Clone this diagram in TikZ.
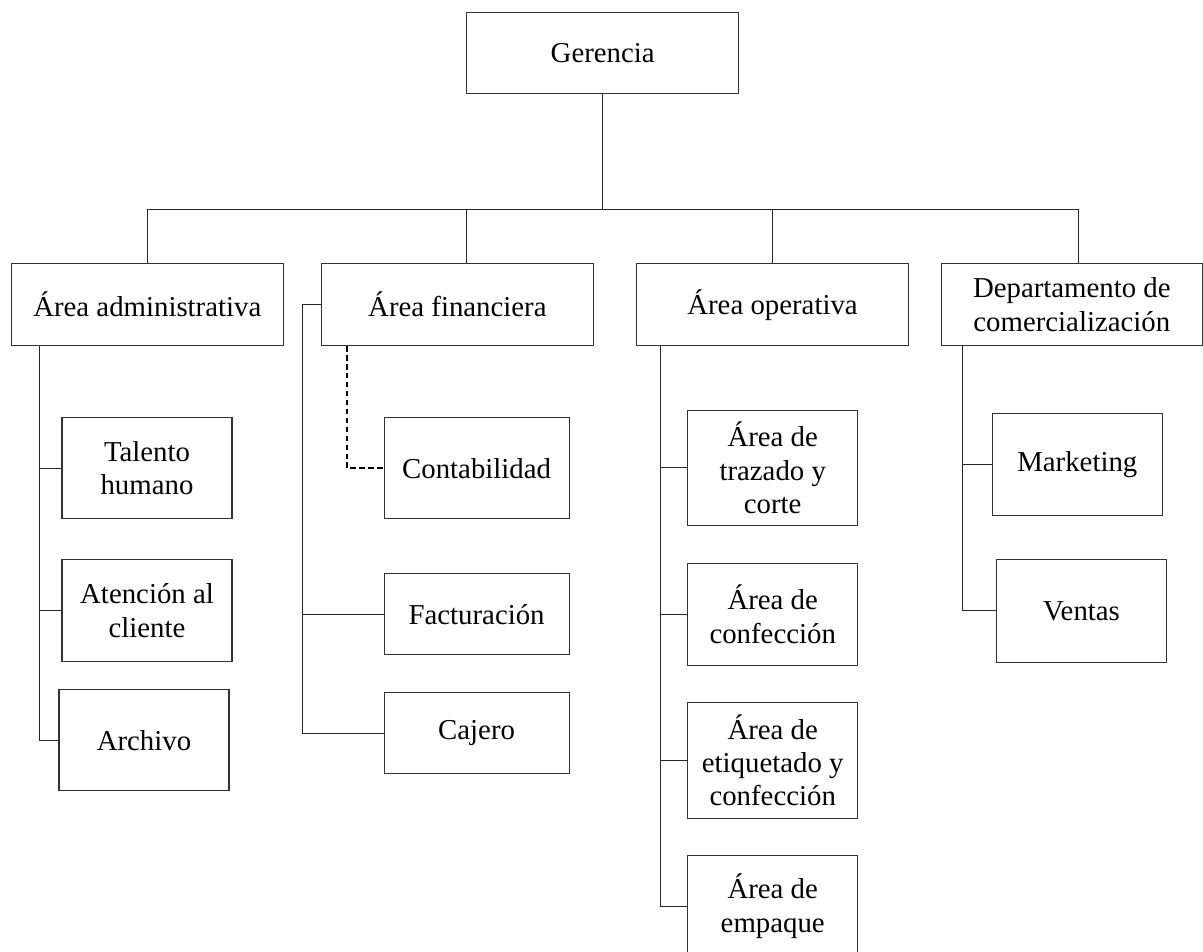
\documentclass[tikz,border=0pt]{standalone}
\usepackage{fontspec}
\setmainfont{Liberation Serif}
\usetikzlibrary{calc}
\tikzset{
    caja/.style={draw=black!80, line width=0.6pt, align=center, inner sep=0pt,
        font=\fontsize{16.4}{19}\selectfont},   % Box of the chart
    ancha/.style={caja, minimum width=5.44cm, minimum height=1.63cm},
    sub/.style={caja, minimum width=3.4cm, minimum height=2.04cm},
    linea/.style={draw=black!85, line width=0.6pt},
    punteada/.style={draw=black, line width=1.4pt, dash pattern=on 3.2pt off 1.9pt}
}

\begin{document}
\begin{tikzpicture}[x=0.02cm, y=-0.02cm]
			\useasboundingbox (0,0) rectangle (1203,951);

			\node[ancha] (ger) at (602.7,53) {Gerencia};

			\node[ancha] (adm) at (147.3,304.7) {Área administrativa};
			\node[ancha, minimum width=5.45cm] (fin) at (457.4,304.7) {Área financiera};
			\node[ancha] (ope) at (772.5,304.7) {Área operativa};
			\node[ancha, minimum width=5.21cm] (com) at (1071.8,304.7) {Departamento de\\comercialización};

			% bus
			\coordinate (b1) at (147.3,209.3);
			\coordinate (b2) at (466.5,209.3);
			\coordinate (b3) at (772.5,209.3);
			\coordinate (b4) at (1078.5,209.3);

			\node[sub, minimum height=2.03cm] (tal) at (147,468.2) {Talento\\humano};
			\node[sub] (ate) at (147,610.7) {Atención al\\cliente};
			\node[sub, minimum height=2.03cm] (arc) at (144,740.2) {Archivo};

			\node[sub, minimum width=3.7cm, minimum height=2.03cm] (con) at (476.6,468.2) {Contabilidad};
			\node[sub, minimum width=3.7cm, minimum height=1.62cm] (fac) at (476.6,614.2) {Facturación};
			\node[sub, minimum width=3.7cm, minimum height=1.63cm] (caj) at (476.6,733.2) {Cajero};

			\node[sub, minimum height=2.31cm] (tra) at (772.7,467.9) {Área de\\trazado y\\corte};
			\node[sub] (cnf) at (772.7,614.3) {Área de\\confección};
			\node[sub, minimum height=2.32cm] (eti) at (772.7,760.3) {Área de\\etiquetado y\\confección};
			\node[sub] (emp) at (772.7,906.3) {Área de\\empaque};

			\node[sub] (mkt) at (1077.3,464.3) {Marketing};
			\node[sub, minimum height=2.05cm] (ven) at (1081.5,610.8) {Ventas};

			% vertical rails
			\coordinate (va) at (39.3,0);
			\coordinate (vf) at (302.3,0);
			\coordinate (vd) at (347.1,0);
			\coordinate (vo) at (660.4,0);
			\coordinate (vc) at (962.7,0);

			\draw[linea] (ger.south) -- (ger.south |- b1);
			\draw[linea] (adm.north) -- (b1) -- (b4) -- (b4 |- com.north);
			\draw[linea] (b2) -- (b2 |- fin.north);
			\draw[linea] (b3) -- (ope.north);

			\draw[linea] (adm.south -| va) -- (va |- arc.west) -- (arc.west);
			\foreach \n in {tal,ate}
				\draw[linea] (va |- \n.west) -- (\n.west);

			\draw[linea] (fin.west) -- (fin.west -| vf) -- (vf |- caj.west) -- (caj.west);
			\draw[linea] (vf |- fac.west) -- (fac.west);
			\draw[punteada] (fin.south -| vd) -- (vd |- con.west) -- (con.west);

			\draw[linea] (ope.south -| vo) -- (vo |- emp.west) -- (emp.west);
			\foreach \n in {tra,cnf,eti}
				\draw[linea] (vo |- \n.west) -- (\n.west);

			\draw[linea] (com.south -| vc) -- (vc |- ven.west) -- (ven.west);
			\draw[linea] (vc |- mkt.west) -- (mkt.west);

		\end{tikzpicture}
\end{document}
